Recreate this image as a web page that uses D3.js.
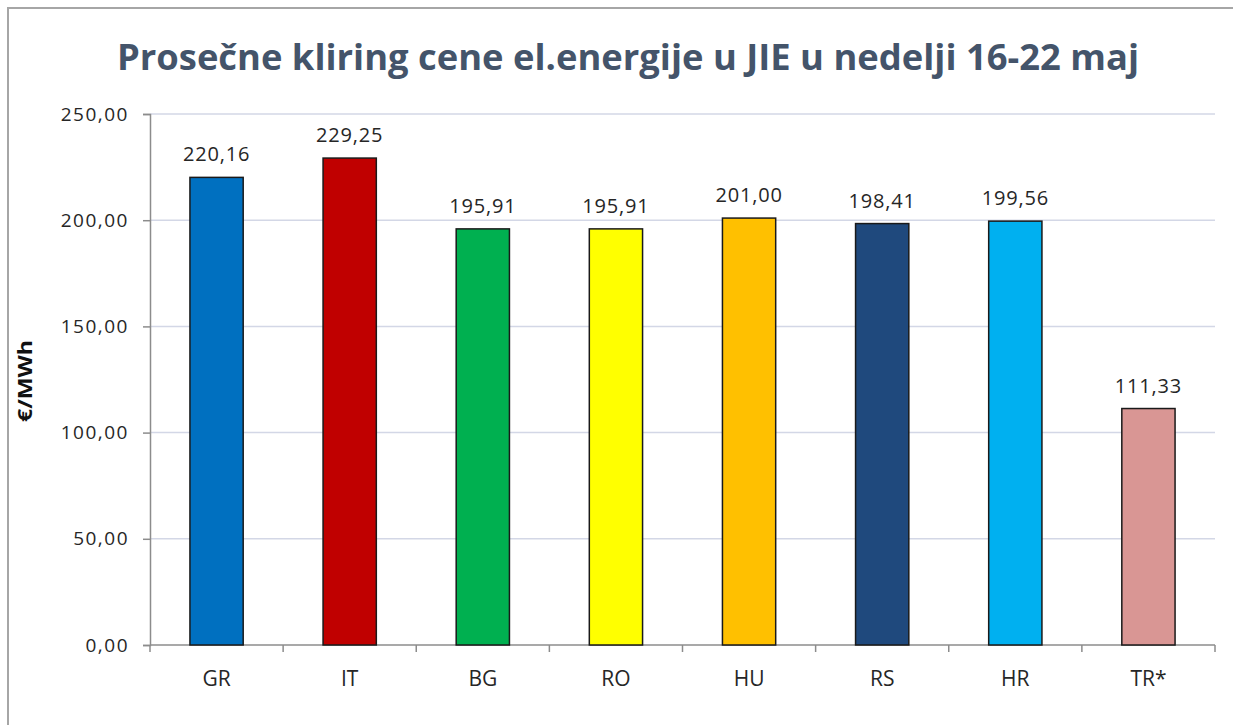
<!DOCTYPE html>
<html>
<head>
<meta charset="utf-8">
<script src="https://cdn.jsdelivr.net/npm/d3@7"></script>
<style>
	body { margin: 0; background: #fff; }
	svg { display: block; }
	text { font-family: "Open Sans", "Noto Sans", sans-serif; }
</style>
</head>
<body>
<svg class="viz" width="1233" height="725"></svg>
<script>
// *** Chart data ***
const countries = ["GR", "IT", "BG", "RO", "HU", "RS", "HR", "TR*"];
const prices = [220.16, 229.25, 195.91, 195.91, 201.00, 198.41, 199.56, 111.33];
const barColors = ["#0070C0", "#C00000", "#00B050", "#FFFF00", "#FFC000", "#1F497D", "#00B0F0", "#D99694"];
const yTicks = [0, 50, 100, 150, 200, 250];
const title = "Prosečne kliring cene el.energije u JIE u nedelji 16-22 maj";
const yLabel = "€/MWh";

function render() {
	let grph = d3.select(".viz");
	const wdth = 1233, hght = 725;
	const left = 150, right = 1215, top = 114, bttm = 645;

	let numFormat = (v) => d3.format(".2f")(v).replace(".", ",");

	// outer frame (only top and left edges visible)
	grph.append("path")
		.attr("d", "M8," + hght + "V8H" + wdth)
		.attr("fill", "none")
		.attr("stroke", "#a6a6a6")
		.attr("stroke-width", 2);

	// title
	grph.append("text")
		.attr("x", 628).attr("y", 70)
		.attr("text-anchor", "middle")
		.attr("font-size", 36)
		.attr("font-weight", "bold")
		.attr("fill", "#44546A")
		.attr("textLength", 1022)
		.attr("lengthAdjust", "spacingAndGlyphs")
		.text(title);

	let x = d3.scaleBand().domain(countries).range([left, right]).paddingInner(0.6).paddingOuter(0.3);
	let y = d3.scaleLinear().domain([0, 250]).range([bttm, top]);

	// grid lines
	grph.append("g").attr("class", "grid")
		.selectAll("line").data(yTicks.filter(d => d > 0)).join("line")
		.attr("x1", left).attr("x2", right)
		.attr("y1", d => y(d)).attr("y2", d => y(d))
		.attr("stroke", "#d3d7e6").attr("stroke-width", 1.5);

	// y axis
	let ax = grph.append("g").attr("class", "axisy")
		.attr("transform", "translate(" + left + ",0)")
		.call(d3.axisLeft(y).tickValues(yTicks).tickFormat(numFormat).tickSize(7).tickPadding(14));
	ax.select(".domain").attr("stroke", "#8c8c8c").attr("stroke-width", 1.5);
	ax.selectAll(".tick line").attr("stroke", "#8c8c8c").attr("stroke-width", 1.5);
	ax.selectAll("text").attr("font-size", 19).attr("letter-spacing", 1.5).attr("fill", "#262626");

	// x axis with ticks between categories
	let xa = grph.append("g").attr("class", "axisx")
		.attr("transform", "translate(0," + bttm + ")");
	xa.append("line").attr("x1", left).attr("x2", right)
		.attr("stroke", "#8c8c8c").attr("stroke-width", 1.5);
	xa.selectAll(".sep").data(d3.range(countries.length + 1)).join("line")
		.attr("class", "sep")
		.attr("x1", i => left + i * (right - left) / countries.length)
		.attr("x2", i => left + i * (right - left) / countries.length)
		.attr("y1", 0).attr("y2", 7)
		.attr("stroke", "#8c8c8c").attr("stroke-width", 1.5);
	xa.selectAll(".lbl").data(countries).join("text")
		.attr("class", "lbl")
		.attr("x", d => x(d) + x.bandwidth() / 2)
		.attr("y", 41)
		.attr("text-anchor", "middle")
		.attr("font-size", 21)
		.attr("fill", "#262626")
		.text(d => d);

	// bars
	let data = countries.map((c, i) => ({ name: c, value: prices[i], color: barColors[i] }));
	grph.append("g").attr("class", "bars")
		.selectAll("rect").data(data).join("rect")
		.attr("x", d => x(d.name))
		.attr("width", x.bandwidth())
		.attr("y", d => y(d.value))
		.attr("height", d => bttm - y(d.value))
		.attr("fill", d => d.color)
		.attr("stroke", "#1a1a1a")
		.attr("stroke-width", 1.5);

	// value labels
	grph.append("g").attr("class", "vals")
		.selectAll("text").data(data).join("text")
		.attr("x", d => x(d.name) + x.bandwidth() / 2)
		.attr("y", d => y(d.value) - 16)
		.attr("text-anchor", "middle")
		.attr("font-size", 20)
		.attr("letter-spacing", 0.8)
		.attr("fill", "#262626")
		.text(d => numFormat(d.value));

	// y label
	grph.append("text")
		.attr("transform", "translate(32,381) rotate(-90)")
		.attr("text-anchor", "middle")
		.attr("font-size", 20)
		.attr("font-weight", "bold")
		.attr("fill", "#111")
		.attr("textLength", 82)
		.attr("lengthAdjust", "spacingAndGlyphs")
		.text(yLabel);
}

render();
</script>
</body>
</html>
